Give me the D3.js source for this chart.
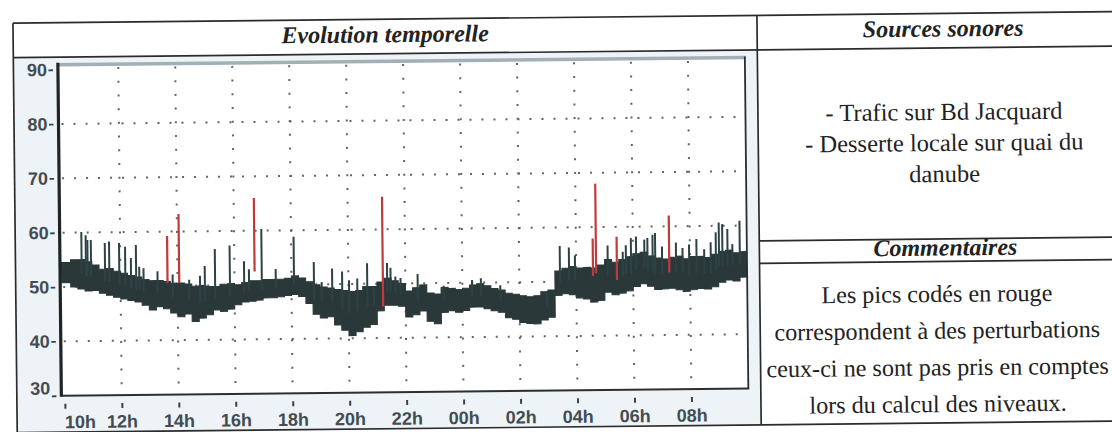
<!DOCTYPE html>
<html><head><meta charset="utf-8">
<script src="https://cdn.jsdelivr.net/npm/d3@7"></script>
<style>
html,body{margin:0;padding:0;background:#fff;}
svg{display:block;}
</style></head>
<body>
<svg id="chart" width="1112" height="432"></svg>
<script>
// ---- data ----
const xTickValues = [10,12,14,16,18,20,22,24,26,28,30,32];
const xTickLabels = ["10h","12h","14h","16h","18h","20h","22h","00h","02h","04h","06h","08h"];
const yTickValues = [30,40,50,60,70,80,90];
const binStartHour = 10;      // first 15-min bin starts at 10h
const binHours = 0.25;
// upper / lower edge of the dense level band, one value per 15 minutes (dB(A))
const bandHigh = [54.5,55.0,55.0,54.6,54.0,53.2,53.3,52.8,52.4,52.0,51.7,51.2,51.0,51.0,50.8,50.5,50.5,50.3,49.9,50.0,49.8,49.8,50.2,50.3,
                  50.1,50.5,50.8,50.8,51.0,51.0,51.0,51.2,51.6,51.2,50.5,49.9,49.5,49.3,49.0,48.8,48.6,48.8,49.5,49.5,50.3,51.0,50.5,50.0,
                  48.6,49.2,49.7,48.2,48.0,49.2,49.0,48.8,49.0,49.6,49.8,49.4,48.9,48.6,48.0,47.8,47.5,47.3,47.5,48.2,48.5,52.0,52.5,52.8,
                  52.5,52.6,52.5,53.0,54.0,53.5,54.0,54.5,55.0,55.3,54.6,54.2,54.0,54.3,54.5,54.0,54.4,54.4,54.2,54.8,55.3,55.5,55.0,55.2];
const bandLow  = [50.8,50.0,49.6,49.2,49.3,48.8,48.4,48.0,47.7,47.4,47.1,46.5,45.6,46.2,45.8,45.0,44.3,44.8,43.4,44.0,44.6,45.5,45.2,45.6,
                  46.4,46.9,47.0,47.2,47.6,47.6,47.8,48.0,48.2,47.8,46.5,44.5,43.8,44.0,42.5,41.5,40.5,41.2,42.0,42.5,45.0,46.0,46.0,45.8,
                  43.8,44.2,44.9,43.0,42.5,44.6,44.9,44.6,44.9,45.5,45.5,45.2,44.8,44.5,43.5,43.2,42.6,42.4,42.3,43.0,43.5,47.5,47.8,47.6,
                  47.0,46.8,46.2,46.5,48.0,47.5,47.8,48.2,49.0,49.5,49.0,48.4,48.5,48.6,48.3,48.0,48.3,48.5,48.4,48.8,49.6,50.0,49.8,50.5];
// short peaks (dark)
const spikeHours  = [10.64,10.79,10.85,10.97,11.46,11.61,11.96,12.17,12.37,12.55,12.66,12.81,13.30,13.83,14.41,14.79,14.96,15.32,15.84,
                     16.34,16.51,16.96,17.45,18.09,18.79,19.06,19.43,19.78,20.02,20.31,20.66,20.89,21.36,21.48,21.65,21.83,
                     22.43,23.34,24.34,24.65,25.33,26.96,27.43,27.75,27.96,
                     29.11,29.64,29.75,29.93,30.11,30.40,30.51,30.69,30.78,31.02,31.51,31.74,31.97,32.23,32.50,32.73,32.91,33.02,33.14,33.32,33.49,33.75];
const spikeValues = [60.1,59.5,58.6,58.6,58.0,58.3,58.0,57.3,55.2,57.6,53.6,53.3,52.7,52.1,51.1,51.8,53.6,56.7,57.3,
                     54.4,52.9,60.3,52.9,58.8,54.1,50.4,52.9,52.3,50.7,51.0,53.8,49.2,53.8,52.9,51.3,51.0,
                     51.7,49.5,50.5,50.8,49.5,48.3,56.6,56.3,54.8,
                     56.6,55.4,56.6,57.9,58.2,57.6,57.9,58.5,58.8,56.3,57.0,56.0,56.6,57.6,55.7,57.0,58.8,60.6,60.3,59.4,56.6,60.9];
// peaks coded in red (disturbances)
const redHours = [13.65,14.06,16.71,21.21,28.59,28.70,29.43,31.27];
const redPeaks = [59.2,63.2,66.0,66.0,57.9,68.0,58.2,62.0];
const redLows  = [50.5,50.5,52.5,45.8,51.0,51.5,50.2,51.5];

const panelTitle = "Evolution temporelle";
const sourcesTitle = "Sources sonores";
const sourcesLines = ["- Trafic sur Bd Jacquard","- Desserte locale sur quai du","danube"];
const commentsTitle = "Commentaires";
const commentsLines = ["Les pics codés en rouge","correspondent à des perturbations","ceux-ci ne sont pas pris en comptes","lors du calcul des niveaux."];

// ---- drawing ----
const svg = d3.select("#chart");
svg.append("rect").attr("width",1112).attr("height",432).attr("fill","#ffffff");
const root = svg.append("g").attr("transform","rotate(-0.6,556,216)");

const P = {left:59.5, right:746.5, top:58.5, bottom:390.5};
const x = d3.scaleLinear().domain([9.88, 34]).range([P.left, P.right]);
const y = d3.scaleLinear().domain([30, 90]).range([P.bottom, 64.5]);

// chart panel background
root.append("rect").attr("x",16).attr("y",53).attr("width",742).attr("height",373).attr("fill","#edf3f6");
root.append("rect").attr("x",P.left).attr("y",P.top).attr("width",P.right-P.left).attr("height",P.bottom-P.top).attr("fill","#ffffff");

// grid
const grid = root.append("g").attr("stroke","#5f6568").attr("stroke-width",2);
grid.selectAll("line.h").data(yTickValues.filter(v=>v>30 && v<90)).join("line")
  .attr("x1",P.left+3).attr("x2",P.right-2).attr("y1",d=>y(d)).attr("y2",d=>y(d))
  .attr("stroke-dasharray","2,10");
grid.selectAll("line.v").data(xTickValues.filter(v=>v>10)).join("line")
  .attr("x1",d=>x(d)).attr("x2",d=>x(d)).attr("y1",P.top+4).attr("y2",P.bottom)
  .attr("stroke-dasharray","2,11.7");

// data
root.append("clipPath").attr("id","plotclip").append("rect")
  .attr("x",P.left+1).attr("y",P.top).attr("width",P.right-P.left-1).attr("height",P.bottom-P.top);
const dataG = root.append("g").attr("clip-path","url(#plotclip)");
const bins = bandHigh.map((h,i)=>({t:binStartHour+i*binHours, hi:h, lo:bandLow[i]}));
const area = d3.area().x(d=>x(d.t)).y0(d=>y(d.lo)).y1(d=>y(d.hi)).curve(d3.curveStepAfter);
const ext = [{t:binStartHour-0.15, hi:bandHigh[0], lo:bandLow[0]}, ...bins, {t:binStartHour+bandHigh.length*binHours, hi:bandHigh[bandHigh.length-1], lo:bandLow[bandLow.length-1]}];
dataG.append("path").datum(ext).attr("d",area).attr("fill","#2a3839").attr("stroke","#2a3839").attr("stroke-width",1);
const binOf = t => Math.max(0, Math.min(bandLow.length-1, Math.floor((t-binStartHour)/binHours)));
dataG.selectAll("line.spike").data(spikeHours).join("line")
  .attr("x1",d=>x(d)).attr("x2",d=>x(d))
  .attr("y1",(d,i)=>y(spikeValues[i])).attr("y2",d=>y((bandLow[binOf(d)]+bandHigh[binOf(d)])/2))
  .attr("stroke","#2d4244").attr("stroke-width",2);
dataG.selectAll("line.red").data(redHours).join("line")
  .attr("x1",d=>x(d)).attr("x2",d=>x(d))
  .attr("y1",(d,i)=>y(redPeaks[i])).attr("y2",(d,i)=>y(redLows[i]))
  .attr("stroke","#c0393b").attr("stroke-width",2.2);

// frame
root.append("line").attr("x1",P.left).attr("x2",P.right+1).attr("y1",P.top+1).attr("y2",P.top+1).attr("stroke","#a3afb6").attr("stroke-width",3.5);
root.append("line").attr("x1",P.right).attr("x2",P.right).attr("y1",P.top).attr("y2",P.bottom).attr("stroke","#2a2f33").attr("stroke-width",1.8);
root.append("line").attr("x1",P.left).attr("x2",P.right+1).attr("y1",P.bottom).attr("y2",P.bottom).attr("stroke","#2a2f33").attr("stroke-width",2);
root.append("line").attr("x1",P.left).attr("x2",P.left).attr("y1",P.top-1).attr("y2",P.bottom+1).attr("stroke","#1f2427").attr("stroke-width",3.2);

// axes
const fontSans = "'Liberation Sans', Arial, sans-serif";
const yAx = root.append("g").attr("transform",`translate(${P.left-5},0)`)
  .call(d3.axisLeft(y).tickValues(yTickValues).tickSize(4.5).tickPadding(1.5));
yAx.select(".domain").remove();
yAx.selectAll(".tick line").attr("stroke","#3a4349").attr("stroke-width",1.8);
yAx.selectAll(".tick text").attr("font-family",fontSans).attr("font-size",18).attr("font-weight","bold").attr("fill","#434c52")
  .attr("dy",d=>d===30?"-0.1em":"0.32em");

const xAx = root.append("g").attr("transform",`translate(0,${P.bottom})`)
  .call(d3.axisBottom(x).tickValues(xTickValues).tickFormat((d,i)=>xTickLabels[i]).tickSize(0));
xAx.select(".domain").remove();
xAx.selectAll(".tick line").attr("y1",8).attr("y2",13).attr("stroke","#3a4349").attr("stroke-width",2);
xAx.selectAll(".tick text").attr("font-family",fontSans).attr("font-size",18).attr("font-weight","bold").attr("fill","#434c52")
  .attr("y",32.5).attr("dy",null).attr("dx",(d,i)=>i===0?15:0);

// table
const tbl = root.append("g").attr("stroke","#2b2b2b").attr("stroke-width",1.7);
tbl.append("line").attr("x1",15).attr("x2",1145).attr("y1",17.5).attr("y2",17.5);
tbl.append("line").attr("x1",15).attr("x2",1145).attr("y1",52).attr("y2",52);
tbl.append("line").attr("x1",15).attr("x2",1145).attr("y1",427).attr("y2",427);
tbl.append("line").attr("x1",15).attr("x2",15).attr("y1",17.5).attr("y2",427);
tbl.append("line").attr("x1",759).attr("x2",759).attr("y1",17.5).attr("y2",427);
tbl.append("line").attr("x1",759).attr("x2",1145).attr("y1",243).attr("y2",243);
tbl.append("line").attr("x1",759).attr("x2",1145).attr("y1",265.5).attr("y2",265.5);

const fontSerif = "'Liberation Serif','Times New Roman',serif";
const head = (txt, cx, by) => root.append("text").attr("x",cx).attr("y",by).attr("text-anchor","middle")
  .attr("font-family",fontSerif).attr("font-weight","bold").attr("font-style","italic").attr("font-size",24)
  .attr("fill","#222").text(txt);
head(panelTitle, 387, 40.5);
head(sourcesTitle, 945, 40.5);
head(commentsTitle, 945, 259.5);

root.append("g").selectAll("text").data(sourcesLines).join("text")
  .attr("x",945).attr("y",(d,i)=>124+i*31).attr("text-anchor","middle")
  .attr("font-family",fontSerif).attr("font-size",24.5).attr("fill","#222").text(d=>d);
root.append("g").selectAll("text").data(commentsLines).join("text")
  .attr("x",936).attr("y",(d,i)=>306+i*36.7).attr("text-anchor","middle")
  .attr("font-family",fontSerif).attr("font-size",24.2).attr("fill","#222").text(d=>d);
</script>
</body></html>
